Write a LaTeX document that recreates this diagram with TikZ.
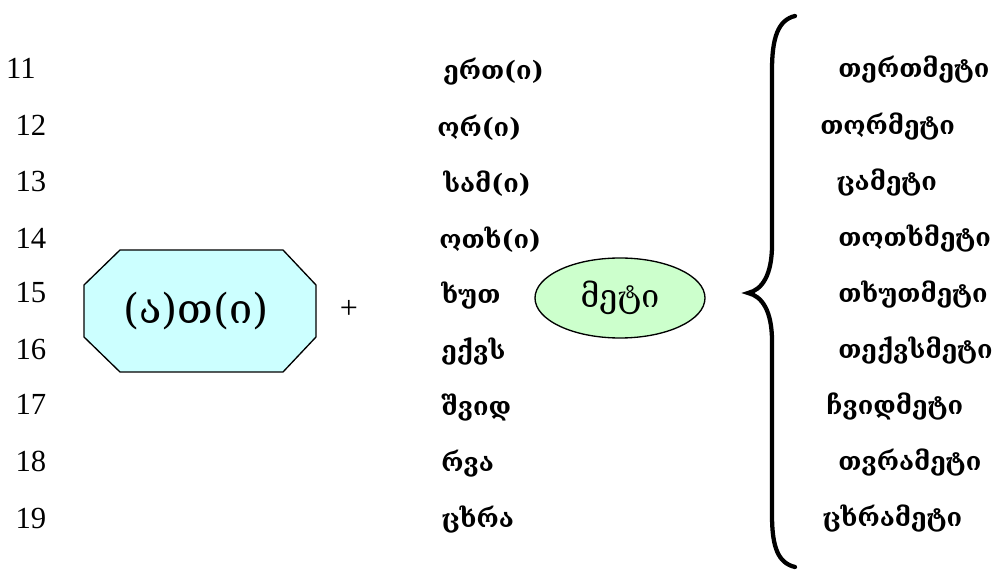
\documentclass[tikz,border=0pt]{standalone}
\usepackage{fontspec}
\setmainfont{Liberation Serif}
\newfontfamily\geo{DejaVu Serif}
\newfontfamily\geobold{DejaVu Serif Bold}
\usetikzlibrary{shapes.geometric}
\definecolor{octfill}{HTML}{CCFFFF}
\definecolor{ellfill}{HTML}{CCFFCC}
\begin{document}
\begin{tikzpicture}[x=0.75pt,y=-0.75pt,
  num/.style={font=\fontsize{23}{26}\selectfont, inner sep=0pt},
  root/.style={font=\geobold\fontsize{19}{22}\selectfont, anchor=west, inner sep=0pt},
  word/.style={font=\geobold\fontsize{19}{22}\selectfont, anchor=west, inner sep=0pt},
  shapeline/.style={draw=black, line width=1pt}]
\useasboundingbox (0,0) rectangle (1000,570);

% numbers 11--19
\node[num] (n11) at (21,68) {11};
\node[num] (n12) at (31,125) {12};
\node[num] (n13) at (31,181) {13};
\node[num] (n14) at (31,238) {14};
\node[num] (n15) at (31,293) {15};
\node[num] (n16) at (31,349) {16};
\node[num] (n17) at (31,404) {17};
\node[num] (n18) at (31,461) {18};
\node[num] (n19) at (31,518) {19};

% octagon with the prefix
\draw[shapeline, fill=octfill] (120,250) -- (283,250) -- (316,285) -- (316,337)
  -- (283,372) -- (120,372) -- (84,337) -- (84,285) -- cycle;
\node[font=\geo\fontsize{31}{36}\selectfont] (pre) at (196,311) {(ა)თ(ი)};
\node[font=\fontsize{24}{26}\selectfont] (plus) at (349,309) {+};

% units
\node[root] (r1) at (443,72) {ერთ(ი)};
\node[root] (r2) at (437,128) {ორ(ი)};
\node[root] (r3) at (443,184) {სამ(ი)};
\node[root] (r4) at (439,240) {ოთხ(ი)};
\node[root] (r5) at (441,296) {ხუთ};
\node[root] (r6) at (441,352) {ექვს};
\node[root] (r7) at (441,408) {შვიდ};
\node[root] (r8) at (441,464) {რვა};
\node[root] (r9) at (441,520) {ცხრა};

% suffix
\node[shapeline, fill=ellfill, ellipse, inner sep=0pt, minimum width=127.5pt,
  minimum height=60pt, font=\geo\fontsize{24}{28}\selectfont] (suf) at (620,298) {მეტი};

% brace
\draw[line width=3.2pt, line cap=round] (795,16) .. controls (778,20) and (772,38) .. (772,70)
  -- (772,245) .. controls (772,275) and (762,290) .. (748,293)
  .. controls (762,296) and (772,311) .. (772,341)
  -- (772,515) .. controls (772,547) and (778,563) .. (795,567);

% results
\node[word] (w11) at (838,70) {თერთმეტი};
\node[word] (w12) at (820,127) {თორმეტი};
\node[word] (w13) at (836,183) {ცამეტი};
\node[word] (w14) at (838,239) {თოთხმეტი};
\node[word] (w15) at (838,295) {თხუთმეტი};
\node[word] (w16) at (838,351) {თექვსმეტი};
\node[word] (w17) at (826,407) {ჩვიდმეტი};
\node[word] (w18) at (838,463) {თვრამეტი};
\node[word] (w19) at (822,519) {ცხრამეტი};
\end{tikzpicture}
\end{document}
